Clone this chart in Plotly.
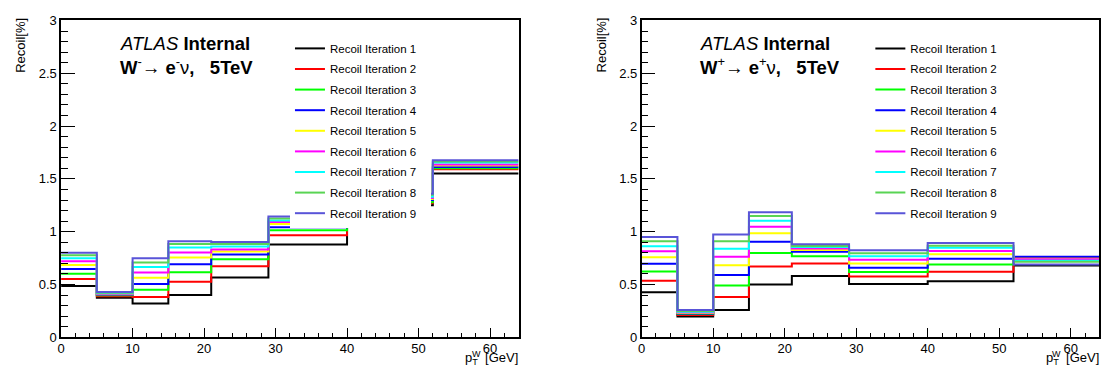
import plotly.graph_objects as go

# ---------------- data ----------------
bin_edges = [0, 5, 10, 15, 21, 29, 40, 52, 64]   # p_T^W bins [GeV]

iteration_names = ["Recoil Iteration %d" % i for i in range(1, 10)]
iteration_colors = ["#000000", "#ff0000", "#00ff00", "#0000ff", "#ffff00",
                    "#ff00ff", "#00ffff", "#59d454", "#5954d8"]

# W- -> e- nu, recoil [%] per bin
wminus_iter1 = [0.487, 0.376, 0.320, 0.402, 0.566, 0.880, 1.250, 1.551]
wminus_iter2 = [0.553, 0.390, 0.383, 0.526, 0.672, 0.966, 1.270, 1.592]
wminus_iter3 = [0.602, 0.398, 0.450, 0.617, 0.740, 1.013, 1.280, 1.600]
wminus_iter4 = [0.648, 0.403, 0.506, 0.692, 0.784, 1.043, 1.300, 1.612]
wminus_iter5 = [0.686, 0.407, 0.563, 0.756, 0.812, 1.073, 1.310, 1.627]
wminus_iter6 = [0.720, 0.412, 0.613, 0.804, 0.831, 1.092, 1.320, 1.637]
wminus_iter7 = [0.748, 0.417, 0.666, 0.850, 0.861, 1.105, 1.330, 1.655]
wminus_iter8 = [0.778, 0.422, 0.708, 0.883, 0.884, 1.126, 1.350, 1.664]
wminus_iter9 = [0.800, 0.430, 0.748, 0.910, 0.902, 1.144, 1.360, 1.676]

# W+ -> e+ nu, recoil [%] per bin
wplus_iter1 = [0.428, 0.198, 0.258, 0.500, 0.580, 0.506, 0.530, 0.680]
wplus_iter2 = [0.535, 0.212, 0.381, 0.670, 0.700, 0.576, 0.622, 0.750]
wplus_iter3 = [0.624, 0.221, 0.490, 0.798, 0.768, 0.618, 0.690, 0.730]
wplus_iter4 = [0.697, 0.226, 0.591, 0.904, 0.810, 0.658, 0.745, 0.762]
wplus_iter5 = [0.758, 0.231, 0.683, 0.986, 0.828, 0.700, 0.786, 0.745]
wplus_iter6 = [0.815, 0.236, 0.762, 1.047, 0.840, 0.734, 0.818, 0.740]
wplus_iter7 = [0.863, 0.242, 0.839, 1.103, 0.855, 0.768, 0.849, 0.725]
wplus_iter8 = [0.910, 0.249, 0.910, 1.149, 0.865, 0.797, 0.866, 0.715]
wplus_iter9 = [0.950, 0.258, 0.974, 1.184, 0.881, 0.824, 0.892, 0.690]

wminus_series = [wminus_iter1, wminus_iter2, wminus_iter3, wminus_iter4, wminus_iter5,
                 wminus_iter6, wminus_iter7, wminus_iter8, wminus_iter9]
wplus_series = [wplus_iter1, wplus_iter2, wplus_iter3, wplus_iter4, wplus_iter5,
                wplus_iter6, wplus_iter7, wplus_iter8, wplus_iter9]

x_tick_values = [0, 10, 20, 30, 40, 50, 60]
y_tick_values = [0, 0.5, 1, 1.5, 2, 2.5, 3]
y_tick_labels = ["0", "0.5", "1", "1.5", "2", "2.5", "3"]

# ---------------- layout geometry ----------------
W, H = 1105, 378
FONT = "Liberation Sans, Arial, Helvetica, sans-serif"
L_X0, L_X1 = 57.3, 516.5
R_X0, R_X1 = 640.0, 1099.3
Y_TOP, Y_BOT = 14.0, 344.0


def px(x):
    return x / W


def py(y):
    return 1 - y / H


fig = go.Figure()

NBSP = "\u00a0"
for panel, series, leg, xa, ya in [("L", wminus_series, "legend", "x", "y"),
                                   ("R", wplus_series, "legend2", "x2", "y2")]:
    for i, vals in enumerate(series):
        fig.add_trace(go.Scatter(
            x=bin_edges, y=vals + [vals[-1]],
            mode="lines",
            line=dict(color=iteration_colors[i], width=2, shape="hv"),
            name=iteration_names[i] + NBSP * 3,
            legend=leg, legendgroup=panel + str(i),
            xaxis=xa, yaxis=ya,
            hoverinfo="skip",
        ))

axis_common = dict(
    showline=True, mirror=True, linecolor="black", linewidth=1.5,
    showgrid=False, zeroline=False,
    ticks="inside", tickcolor="black", tickwidth=1.2,
    tickfont=dict(family=FONT, size=13, color="black"),
)

xaxis_common = dict(axis_common, range=[0, 64], tickvals=x_tick_values, ticklen=10,
                    ticklabelstandoff=-2,
                    minor=dict(ticks="inside", ticklen=5, dtick=2, tick0=0,
                               tickcolor="black", tickwidth=1.2))
yaxis_common = dict(axis_common, range=[0, 3], tickvals=y_tick_values,
                    ticktext=y_tick_labels, ticklen=14,
                    minor=dict(ticks="inside", ticklen=7, dtick=0.1, tick0=0,
                               tickcolor="black", tickwidth=1.2))

legend_common = dict(xanchor="left", yanchor="top", y=py(28),
                     bgcolor="white", borderwidth=0,
                     font=dict(family=FONT, size=11.5, color="black"),
                     traceorder="grouped", tracegroupgap=1.6)

annotations = []
for x0, x1, sign in [(L_X0, L_X1, "-"), (R_X0, R_X1, "+")]:
    annotations += [
        dict(text="<i>ATLAS</i> <b>Internal</b>", x=px(x0 + 57), y=py(51),
             xanchor="left", yanchor="bottom"),
        dict(text="<b>W</b><sup>%s</sup>\u2192 <b>e</b><sup>%s</sup>\u03bd<b>,</b>\u00a0\u00a0\u00a0<b>5TeV</b>" % (sign, sign),
             x=px(x0 + 57), y=py(75.7), xanchor="left", yanchor="bottom"),
    ]
for a in annotations:
    a.update(xref="paper", yref="paper", showarrow=False,
             font=dict(family=FONT, size=18.5, color="black"))

for x0, x1 in [(L_X0, L_X1), (R_X0, R_X1)]:
    annotations += [
        dict(text="Recoil[%]", x=px(x0 - 40.8), y=py(40), textangle=-90,
             xanchor="center", yanchor="middle", xref="paper", yref="paper",
             showarrow=False, font=dict(family=FONT, size=13, color="black")),
        dict(text="p<sub>T</sub>\u00a0 [GeV]", x=px(x1 + 1.5), y=py(366),
             xanchor="right", yanchor="middle", xref="paper", yref="paper",
             showarrow=False, font=dict(family=FONT, size=13, color="black")),
        dict(text="W", x=px(x1 - 42.5), y=py(361.5),
             xanchor="center", yanchor="middle", xref="paper", yref="paper",
             showarrow=False, font=dict(family=FONT, size=9, color="black")),
    ]

fig.update_layout(
    width=W, height=H,
    margin=dict(l=0, r=0, t=0, b=0),
    paper_bgcolor="white", plot_bgcolor="white",
    xaxis=dict(xaxis_common, domain=[px(L_X0), px(L_X1)], anchor="y"),
    yaxis=dict(yaxis_common, domain=[1 - Y_BOT / H, 1 - Y_TOP / H], anchor="x"),
    xaxis2=dict(xaxis_common, domain=[px(R_X0), px(R_X1)], anchor="y2"),
    yaxis2=dict(yaxis_common, domain=[1 - Y_BOT / H, 1 - Y_TOP / H], anchor="x2"),
    legend=dict(legend_common, x=px(287)),
    legend2=dict(legend_common, x=px(869.5)),
    annotations=annotations,
    showlegend=True,
)

fig.write_html(
    "out.html",
    config={"displayModeBar": False},
    post_script="document.body.style.margin='0';document.body.style.overflow='hidden';",
)
